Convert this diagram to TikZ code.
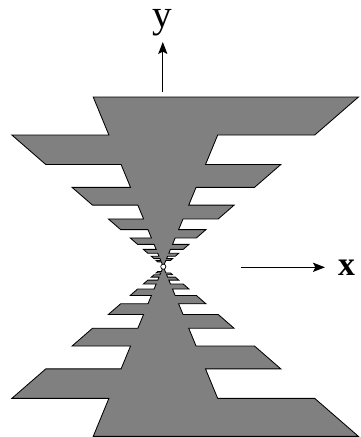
\documentclass[tikz,border=0pt]{standalone}
\usepackage{fontspec}
\setmainfont{Liberation Serif}
\usetikzlibrary{arrows.meta,positioning}
\tikzset{
  bladefill/.style={
    fill=gray,
    draw=black,
    line width=0.6pt,
    line join=miter
  },
  axisarrow/.style={-{Stealth[length=3mm,width=2.3mm,inset=0.6mm]},line width=0.8pt},
  axislabel/.style={inner sep=0pt}
}
% slopes of inner and outer edges, tooth ratio, top radius
\newcommand{\ain}{0.413}
\newcommand{\bout}{1.15}
\newcommand{\tauratio}{0.776}
\newcommand{\rtop}{169.7}

\begin{document}
\begin{tikzpicture}[x=0.025cm,y=0.025cm]
  \useasboundingbox (-163.3,-170.3) rectangle (197.7,266.7);
  % upper blade and its mirror image
  \foreach \s in {1,-1}{
    \begin{scope}[yscale=\s]
      \filldraw[bladefill] ({-\ain*\rtop},{\rtop})
        \foreach \k in {0,2,...,12}{
          -- ({\ain*\rtop*\tauratio^\k},{\rtop*\tauratio^\k})
          -- ({\bout*\rtop*\tauratio^\k},{\rtop*\tauratio^\k})
          -- ({\bout*\rtop*\tauratio^(\k+1)},{\rtop*\tauratio^(\k+1)})
          -- ({\ain*\rtop*\tauratio^(\k+1)},{\rtop*\tauratio^(\k+1)})
        }
        -- (0,0)
        \foreach \k in {14,12,...,2}{
          -- ({-\ain*\rtop*\tauratio^\k},{\rtop*\tauratio^\k})
          -- ({-\bout*\rtop*\tauratio^\k},{\rtop*\tauratio^\k})
          -- ({-\bout*\rtop*\tauratio^(\k-1)},{\rtop*\tauratio^(\k-1)})
          -- ({-\ain*\rtop*\tauratio^(\k-1)},{\rtop*\tauratio^(\k-1)})
        }
        -- cycle;
    \end{scope}
  }
  \node[circle,draw,fill=white,line width=0.5pt,inner sep=0pt,minimum size=1.3mm] (feed) at (0,0) {};

  % axes
  \coordinate (yfoot) at (-0.5,174.7);
  \coordinate (ytip) at (-0.5,224.7);
  \coordinate (xfoot) at (77.4,-0.6);
  \coordinate (xtip) at (161.7,-0.6);
  \draw[axisarrow] (yfoot) -- (ytip);
  \draw[axisarrow] (xfoot) -- (xtip);
  \node[axislabel,above=1.5mm of ytip,font=\fontsize{28}{30}\selectfont] (ylab) {y};
  \node[axislabel,right=3.2mm of xtip,font=\fontsize{24}{26}\selectfont\bfseries] (xlab) {x};
\end{tikzpicture}
\end{document}
